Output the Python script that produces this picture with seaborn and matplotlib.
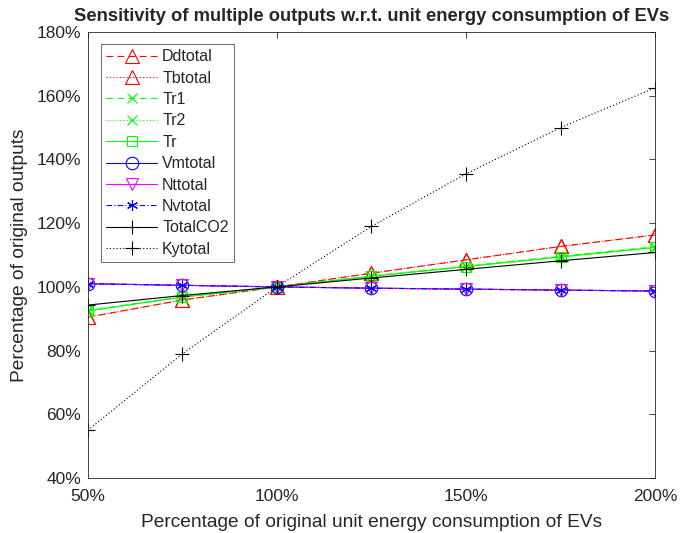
import matplotlib
matplotlib.use("Agg")
import matplotlib.pyplot as plt
import seaborn as sns
import pandas as pd
from matplotlib.ticker import FuncFormatter

x_pct = [50, 75, 100, 125, 150, 175, 200]
Ddtotal = [90.5, 95.9, 100, 104.3, 108.5, 112.7, 116.3]
Tbtotal = [90.5, 95.9, 100, 104.3, 108.5, 112.7, 116.3]
Tr1 = [92.6, 96.9, 100, 103.4, 106.5, 109.6, 112.6]
Tr2 = [92.4, 96.8, 100, 103.3, 106.3, 109.3, 112.3]
Tr = [92.5, 96.8, 100, 103.3, 106.4, 109.4, 112.4]
Vmtotal = [101.0, 100.5, 100, 99.6, 99.3, 99.0, 98.7]
Nttotal = [101.0, 100.5, 100, 99.6, 99.3, 99.0, 98.7]
Nvtotal = [101.0, 100.5, 100, 99.6, 99.3, 99.0, 98.7]
TotalCO2 = [94.3, 97.3, 100, 102.8, 105.5, 108.2, 110.8]
Kytotal = [55, 79, 100, 119, 135.5, 150, 162.5]

series = [
    ("Ddtotal", Ddtotal, "#ff0000", (0, (6, 4)), "^", 10),
    ("Tbtotal", Tbtotal, "#ff0000", (0, (1, 2)), "^", 10),
    ("Tr1", Tr1, "#00ff00", (0, (6, 4)), "x", 7),
    ("Tr2", Tr2, "#00ff00", (0, (1, 2)), "x", 7),
    ("Tr", Tr, "#00ff00", "-", "s", 7),
    ("Vmtotal", Vmtotal, "#0000ff", "-", "o", 9),
    ("Nttotal", Nttotal, "#ff00ff", "-", "v", 9),
    ("Nvtotal", Nvtotal, "#0000ff", (0, (5, 2, 1, 2)), (6, 2, 0), 8),
    ("TotalCO2", TotalCO2, "#000000", "-", "+", 10),
    ("Kytotal", Kytotal, "#000000", (0, (1, 2)), "+", 10),
]

sns.set_style("white")
plt.rcParams['font.family'] = ['Liberation Sans', 'DejaVu Sans']

fig = plt.figure(figsize=(6.81, 5.33), dpi=100)
ax = fig.add_axes([0.129, 0.103, 0.833, 0.837])

for name, vals, color, ls, mk, ms in series:
    df = pd.DataFrame({"x": x_pct, "y": vals})
    sns.lineplot(data=df, x="x", y="y", ax=ax, color=color, linestyle=ls,
                 marker=mk, markersize=ms, markerfacecolor="none",
                 markeredgecolor=color, markeredgewidth=0.8, linewidth=0.8,
                 label=name)

ax.set_xlim(50, 200)
ax.set_ylim(40, 180)
ax.set_xticks([50, 100, 150, 200])
ax.set_yticks(range(40, 181, 20))
pct = FuncFormatter(lambda v, p: f"{int(v)}%")
ax.xaxis.set_major_formatter(pct)
ax.yaxis.set_major_formatter(pct)
ax.tick_params(direction="in", top=True, right=True, labelsize=12.5,
               length=4, width=0.6, color="#262626", labelcolor="#262626")
ax.tick_params(axis="x", pad=8)
ax.tick_params(axis="y", pad=5)
for s in ax.spines.values():
    s.set_visible(True)
    s.set_color("#262626")
    s.set_linewidth(0.6)

ax.set_xlabel("Percentage of original unit energy consumption of EVs", fontsize=13.8,
              color="#262626", labelpad=7)
ax.set_ylabel("Percentage of original outputs", fontsize=13.8, color="#262626", labelpad=6)
ax.set_title("Sensitivity of multiple outputs w.r.t. unit energy consumption of EVs",
             fontsize=13.2, fontweight="bold", pad=8)

leg = ax.legend(loc="upper left", fontsize=11.5,
                frameon=True, fancybox=False, edgecolor="#262626",
                handlelength=3.2, handletextpad=0.3, labelspacing=0.40,
                borderpad=0.33, borderaxespad=0.0)
leg.set_bbox_to_anchor((101 / 681, 1 - 44 / 533), transform=fig.transFigure)
leg.get_frame().set_linewidth(0.6)

fig.savefig("out.png", dpi=100)
